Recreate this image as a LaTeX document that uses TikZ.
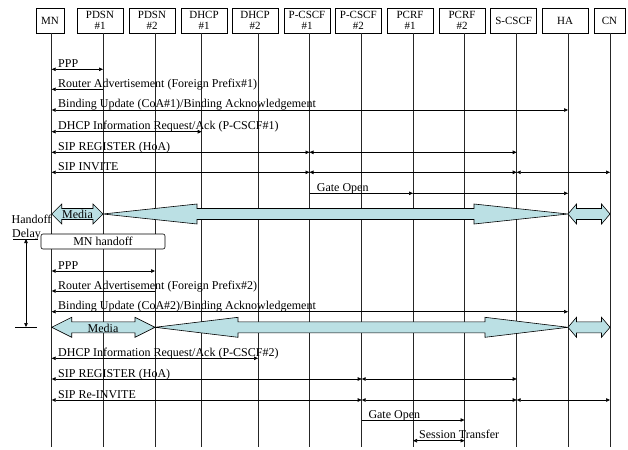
\documentclass[tikz,border=0pt]{standalone}
\usepackage{fontspec}
\setmainfont{Liberation Serif}
\usetikzlibrary{arrows.meta}
\definecolor{mediafill}{RGB}{187,224,228}
\newcommand\blockarrow[4]{%
  \draw[media] (#1 |- 0,#3) -- ([xshift=#4pt]#1 |- 0,#3-10) -- ([xshift=#4pt]#1 |- 0,#3-5.5)
   -- ([xshift=-#4pt]#2 |- 0,#3-5.5) -- ([xshift=-#4pt]#2 |- 0,#3-10) -- (#2 |- 0,#3)
   -- ([xshift=-#4pt]#2 |- 0,#3+10) -- ([xshift=-#4pt]#2 |- 0,#3+5.5)
   -- ([xshift=#4pt]#1 |- 0,#3+5.5) -- ([xshift=#4pt]#1 |- 0,#3+10) -- cycle;}
\begin{document}
\begin{tikzpicture}[x=1pt,y=-1pt,
  ent/.style={draw, line width=0.8pt, minimum height=25pt, minimum width=46pt, inner sep=0pt,
    align=center, font=\fontsize{11}{11}\selectfont, fill=white},
  life/.style={line width=0.9pt, black!85},
  msg/.style={line width=0.6pt, {Triangle[length=4pt,width=3.5pt]}-{Triangle[length=4pt,width=3.5pt]}},
  msgr/.style={line width=0.6pt, -{Triangle[length=4pt,width=3.5pt]}},
  lbl/.style={anchor=base west, inner sep=0pt, font=\fontsize{12}{12}\selectfont},
  media/.style={draw, fill=mediafill, line width=0.6pt},
  hbox/.style={draw, rounded corners=2pt, fill=white, line width=0.6pt, minimum width=124pt,
    minimum height=15pt, inner sep=0pt, font=\fontsize{12}{12}\selectfont},
]
\useasboundingbox (0,0) rectangle (628,449);

% entity boxes
\node[ent, minimum width=28pt] (bMN) at (50,20.5) {MN};
\node[ent] (bP1) at (100,20.5) {PDSN\\\#1};
\node[ent] (bP2) at (152,20.5) {PDSN\\\#2};
\node[ent] (bD1) at (204,20.5) {DHCP\\\#1};
\node[ent] (bD2) at (255,20.5) {DHCP\\\#2};
\node[ent] (bC1) at (307,20.5) {P-CSCF\\\#1};
\node[ent] (bC2) at (358.3,20.5) {P-CSCF\\\#2};
\node[ent] (bR1) at (410,20.5) {PCRF\\\#1};
\node[ent] (bR2) at (462,20.5) {PCRF\\\#2};
\node[ent] (bS) at (513.7,20.5) {S-CSCF};
\node[ent] (bHA) at (565,20.5) {HA};
\node[ent, minimum width=31pt] (bCN) at (609.5,20.5) {CN};

% lifeline anchors
\coordinate (MN) at (51.7,33);
\coordinate (P1) at (103,33);
\coordinate (P2) at (155,33);
\coordinate (D1) at (201.7,33);
\coordinate (D2) at (258,33);
\coordinate (C1) at (309.5,33);
\coordinate (C2) at (361.7,33);
\coordinate (R1) at (413,33);
\coordinate (R2) at (464.5,33);
\coordinate (S) at (516.7,33);
\coordinate (HA) at (568,33);
\coordinate (CN) at (610,33);

% lifelines
\foreach \n in {MN,P1,P2,D1,D2,C1,C2,R1,R2,S,HA,CN}
  \draw[life] (\n) -- (\n |- 0,447);

% first attach
\draw[msg] (MN |- 0,69.3) -- (P1 |- 0,69.3);
\node[lbl] (l1) at (58,67.3) {PPP};
\draw[msgr] (P1 |- 0,89.3) -- (MN |- 0,89.3);
\node[lbl] (l2) at (58,87.3) {Router Advertisement (Foreign Prefix\#1)};
\draw[msg] (MN |- 0,110) -- (HA |- 0,110);
\node[lbl] (l3) at (58,108) {Binding Update (CoA\#1)/Binding Acknowledgement};
\draw[msg] (MN |- 0,131.7) -- (D1 |- 0,131.7);
\node[lbl] (l4) at (58,129.7) {DHCP Information Request/Ack (P-CSCF\#1)};
\draw[msg] (MN |- 0,152.3) -- (C1 |- 0,152.3);
\draw[msg] (C1 |- 0,152.3) -- (S |- 0,152.3);
\node[lbl] (l5) at (58,150.3) {SIP REGISTER (HoA)};
\draw[msg] (MN |- 0,172.3) -- (C1 |- 0,172.3);
\draw[msg] (C1 |- 0,172.3) -- (S |- 0,172.3);
\draw[msg] (S |- 0,172.3) -- (CN |- 0,172.3);
\node[lbl] (l6) at (58,170.3) {SIP INVITE};
\draw[msgr] (C1 |- 0,193.3) -- (R1 |- 0,193.3);
\draw[msgr] (R1 |- 0,193.3) -- (HA |- 0,193.3);
\node[lbl] (l7) at (316.7,191.3) {Gate Open};

% media 1
\blockarrow{MN}{P1}{214}{10}
\blockarrow{P1}{HA}{214}{94}
\blockarrow{HA}{CN}{214}{8.5}
\node[inner sep=0pt, font=\fontsize{12}{12}\selectfont] (m1) at (77.5,214) {Media};

% handoff delay
\node[lbl] (hd1) at (11.5,223) {Handoff};
\node[lbl] (hd2) at (12,237) {Delay};
\coordinate (hdt) at (26,239);
\coordinate (hdb) at (26,327);
\draw[line width=0.6pt] (13,239) -- (38,239);
\draw[line width=0.6pt] (15,327) -- (37,327);
\draw[msg] (hdt) -- (hdb);

\node[hbox] (ho) at (103,241.5) {MN handoff};

% second attach
\draw[msg] (MN |- 0,271) -- (P2 |- 0,271);
\node[lbl] (l8) at (58,269) {PPP};
\draw[msgr] (P2 |- 0,291) -- (MN |- 0,291);
\node[lbl] (l9) at (58,289) {Router Advertisement (Foreign Prefix\#2)};
\draw[msg] (MN |- 0,311.7) -- (HA |- 0,311.7);
\node[lbl] (l10) at (58,309.7) {Binding Update (CoA\#2)/Binding Acknowledgement};

% media 2
\blockarrow{MN}{P2}{327.3}{20}
\blockarrow{P2}{HA}{327.3}{83}
\blockarrow{HA}{CN}{327.3}{8.5}
\node[inner sep=0pt, font=\fontsize{12}{12}\selectfont] (m2) at (103,328.5) {Media};

\draw[msg] (MN |- 0,358.3) -- (D2 |- 0,358.3);
\node[lbl] (l11) at (58,356.3) {DHCP Information Request/Ack (P-CSCF\#2)};
\draw[msg] (MN |- 0,379) -- (C2 |- 0,379);
\draw[msg] (C2 |- 0,379) -- (S |- 0,379);
\node[lbl] (l12) at (58,377) {SIP REGISTER (HoA)};
\draw[msg] (MN |- 0,400) -- (C2 |- 0,400);
\draw[msg] (C2 |- 0,400) -- (S |- 0,400);
\draw[msg] (S |- 0,400) -- (CN |- 0,400);
\node[lbl] (l13) at (58,398) {SIP Re-INVITE};
\draw[msgr] (C2 |- 0,420) -- (R2 |- 0,420);
\node[lbl] (l14) at (368.3,418) {Gate Open};
\draw[msg] (R1 |- 0,440.7) -- (R2 |- 0,440.7);
\node[lbl] (l15) at (419,438.7) {Session Transfer};
\end{tikzpicture}
\end{document}
